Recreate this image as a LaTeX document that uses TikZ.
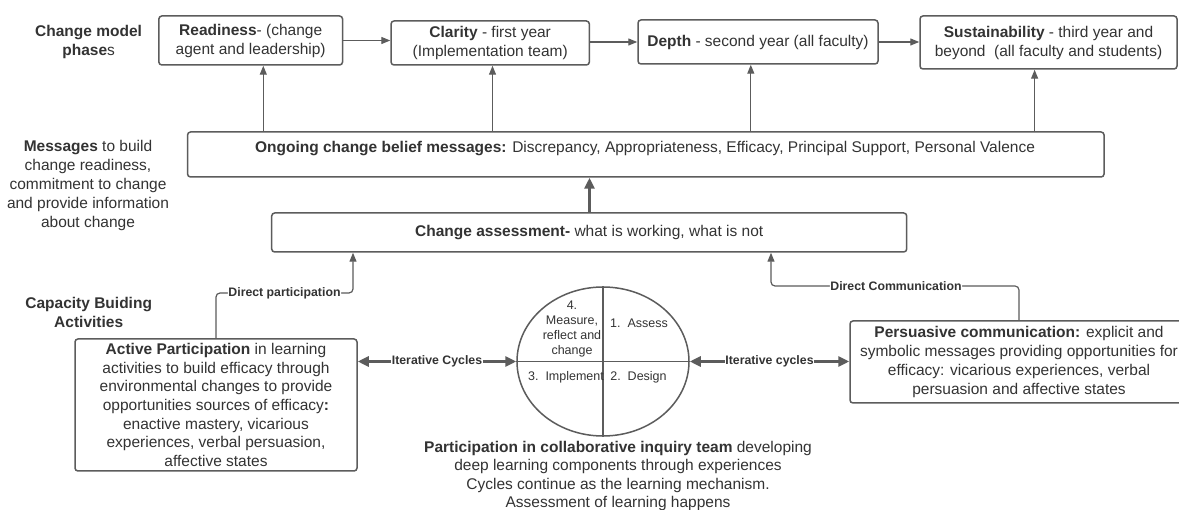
\documentclass[tikz,border=0pt]{standalone}
\usepackage{fontspec}
\setmainfont{Liberation Sans}
\usetikzlibrary{arrows.meta,shapes.geometric}
\definecolor{ln}{HTML}{5C5C5C}
\definecolor{tx}{HTML}{333333}
\begin{document}
\begin{tikzpicture}[x=1pt,y=-1pt,
  box/.style={draw=ln, line width=1.5pt, rounded corners=3pt, align=center, text=tx,
              font=\fontsize{15.5}{19}\selectfont, inner sep=0pt},
  plain/.style={align=center, text=tx, font=\fontsize{15.5}{18.8}\selectfont, inner sep=0pt},
  small/.style={align=center, text=tx, font=\fontsize{12.5}{14.7}\selectfont, inner sep=0pt},
  lbl/.style={fill=white, text=tx, font=\bfseries\fontsize{12.3}{14}\selectfont, inner sep=0.5pt},
  conn/.style={draw=ln, line width=1.2pt, -{Triangle[length=9pt,width=7pt]}},
  thickconn/.style={draw=ln, line width=3pt, -{Triangle[length=11pt,width=10pt]}},
  both/.style={draw=ln, line width=3pt, {Triangle[length=11pt,width=10pt]}-{Triangle[length=11pt,width=10pt]}},
]
\useasboundingbox (0,0) rectangle (1179,510);
\fill[white] (0,0) rectangle (1179,510);
\clip (0,0) rectangle (1179,510);

% side labels
\node[plain, font=\bfseries\fontsize{15.5}{19.5}\selectfont] (phases) at (88.6,42) {Change model\\phase{\mdseries s}};
\node[plain] (messages) at (88,185.5) {\textbf{Messages} to build\\change readiness,\\commitment to change\\and provide information\\about change};
\node[plain, font=\bfseries\fontsize{15.5}{19}\selectfont] (capacity) at (88.7,312.5) {Capacity Buiding\\Activities};

% phase boxes
\node[box, minimum width=183.7pt, minimum height=49pt] (ready) at (250.7,40.5) {\textbf{Readiness}- (change\\agent and leadership)};
\node[box, minimum width=198.3pt, minimum height=44pt] (clar) at (490.2,43) {\textbf{Clarity} - first year\\(Implementation team)};
\node[box, minimum width=240pt, minimum height=44pt] (depth) at (758,42) {\textbf{Depth} - second year (all faculty)};
\node[box, minimum width=257pt, minimum height=53pt] (sust) at (1048.5,42.5) {\textbf{Sustainability} - third year and\\beyond\ \ (all faculty and students)};

\draw[conn] (ready.east) -- (ready.east -| clar.west);
\draw[conn] (clar.east |- depth.west) -- (depth.west);
\draw[conn] (depth.east) -- (depth.east -| sust.west);

% ongoing messages
\node[box, minimum width=916.5pt, minimum height=45pt] (ongo) at (645.8,154.5) {};
\node[plain] (ongotxt) at (645,149) {\textbf{Ongoing change belief messages:} Discrepancy, Appropriateness, Efficacy, Principal Support, Personal Valence};

\coordinate (x1) at (263.3,0);
\coordinate (x2) at (492.5,0);
\coordinate (x3) at (750.8,0);
\coordinate (x4) at (1034.6,0);
\draw[conn] (ongo.north -| x1) -- (ready.south -| x1);
\draw[conn] (ongo.north -| x2) -- (clar.south -| x2);
\draw[conn] (ongo.north -| x3) -- (depth.south -| x3);
\draw[conn] (ongo.north -| x4) -- (sust.south -| x4);

% change assessment
\node[box, minimum width=635pt, minimum height=39pt] (assess) at (589.2,232.5) {\textbf{Change assessment-} what is working, what is not};
\coordinate (x5) at (589.5,0);
\draw[thickconn] (assess.north -| x5) -- (ongo.south -| x5);

% capacity boxes
\node[box, minimum width=282pt, minimum height=132pt, font=\fontsize{15.5}{18.7}\selectfont] (active) at (216,405)
  {\textbf{Active Participation} in learning\\activities to build efficacy through\\environmental changes to provide\\opportunities sources of efficacy\textbf{:}\\enactive mastery, vicarious\\experiences, verbal persuasion,\\affective states};
\node[box, minimum width=338pt, minimum height=82pt, font=\fontsize{15.5}{19}\selectfont] (pers) at (1019,362)
  {\textbf{Persuasive communication:} explicit and\\symbolic messages providing opportunities for\\efficacy: vicarious experiences, verbal\\persuasion and affective states};

% cycle
\node[ellipse, draw=ln, line width=1.5pt, minimum width=172pt, minimum height=149pt, inner sep=0pt] (cyc) at (603,361.5) {};
\draw[ln, line width=1.5pt] (cyc.north) -- (cyc.south);
\draw[ln, line width=1.5pt] (cyc.west) -- (cyc.east);
\node[small] (q4) at (572,329) {4.\\Measure,\\reflect and\\change};
\node[small] (q1) at (639,323) {1.\ \ Assess};
\node[small] (q3) at (566,377) {3.\ \ Implement};
\node[small] (q2) at (638.5,377) {2.\ \ Design};

\node[plain, font=\fontsize{15.5}{18.4}\selectfont] (inquiry) at (618,476)
  {\textbf{Participation in collaborative inquiry team} developing\\deep learning components through experiences\\Cycles continue as the learning mechanism.\\Assessment of learning happens};

% iterative cycles
\draw[both] (active.east |- cyc.west) -- node[lbl] (it1) {Iterative Cycles} (cyc.west);
\draw[both] (cyc.east) -- node[lbl] (it2) {Iterative cycles} (pers.west |- cyc.east);

% direct links
\coordinate (x6) at (216,0);
\coordinate (x7) at (353,0);
\coordinate (x8) at (1019,0);
\coordinate (x9) at (771,0);
\draw[conn, rounded corners=4pt] (active.north -| x6) -- (216,293) -- node[lbl] (dp) {Direct participation} (353,293) -- (assess.south -| x7);
\draw[conn, rounded corners=4pt] (pers.north -| x8) -- (1019,286) -- node[lbl, xshift=1pt] (dc) {Direct Communication} (771,286) -- (assess.south -| x9);
\end{tikzpicture}
\end{document}
